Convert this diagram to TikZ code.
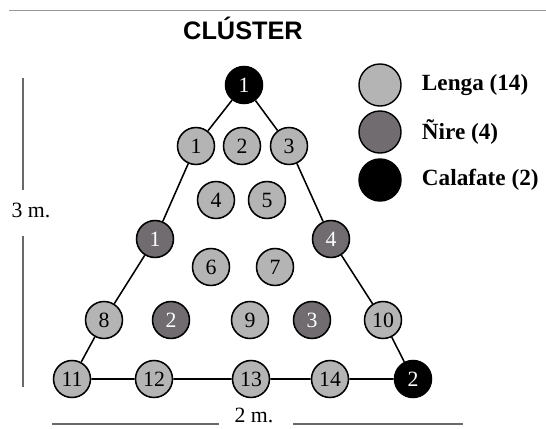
\documentclass[tikz,border=0pt]{standalone}
\usepackage{fontspec}
\setmainfont{Liberation Serif}
\newfontfamily\titlefont{Liberation Sans}
\definecolor{lengagray}{RGB}{180,180,180}
\definecolor{niregray}{RGB}{112,108,112}
\definecolor{rulegray}{RGB}{150,150,150}
\tikzset{
  tree/.style={circle,draw=black,line width=1.1pt,minimum size=26.3pt,inner sep=0pt,
    font=\fontsize{15.5}{15.5}\selectfont},
  lenga/.style={tree,fill=lengagray,text=black},
  nire/.style={tree,fill=niregray,text=white},
  calafate/.style={tree,fill=black,text=white},
  legendmark/.style={circle,draw=black,line width=1pt,minimum size=29.9pt,inner sep=0pt},
  legendtext/.style={anchor=west,font=\fontsize{16.5}{16.5}\selectfont\bfseries},
  dimtext/.style={font=\fontsize{15.5}{15.5}\selectfont},
  dimline/.style={draw=rulegray!70!black,line width=0.8pt}
}
\begin{document}
\begin{tikzpicture}[x=0.025cm,y=-0.025cm]
  \useasboundingbox (0,0) rectangle (546,428);
  \draw[rulegray,line width=0.8pt] (9,10.5) -- (546,10.5);
  \node[font=\titlefont\fontsize{18}{18}\selectfont\bfseries] (title) at (243,28) {CLÚSTER};
  % trees
  \node[calafate] (c1) at (244,85) {1};
  \node[lenga] (l1) at (196,146) {1};
  \node[lenga] (l2) at (242,146) {2};
  \node[lenga] (l3) at (289,146) {3};
  \node[lenga] (l4) at (216,200) {4};
  \node[lenga] (l5) at (267,200) {5};
  \node[nire] (n1) at (155,239) {1};
  \node[nire] (n4) at (331,239) {4};
  \node[lenga] (l6) at (211,267) {6};
  \node[lenga] (l7) at (275,267) {7};
  \node[lenga] (l8) at (104,320) {8};
  \node[nire] (n2) at (171,320) {2};
  \node[lenga] (l9) at (250,320) {9};
  \node[nire] (n3) at (312,320) {3};
  \node[lenga] (l10) at (383,320) {10};
  \node[lenga] (l11) at (72,379) {11};
  \node[lenga] (l12) at (154,379) {12};
  \node[lenga] (l13) at (251,379) {13};
  \node[lenga] (l14) at (330,379) {14};
  \node[calafate] (c2) at (413,379) {2};
  % triangle
  \draw[line width=1.1pt] (c1) -- (l1) -- (n1) -- (l8) -- (l11) -- (l12) -- (l13) -- (l14) -- (c2)
    -- (l10) -- (n4) -- (l3) -- (c1);
  % legend
  \node[legendmark,fill=lengagray] (kl) at (380,85) {};
  \node[legendmark,fill=niregray] (kn) at (380,132) {};
  \node[legendmark,fill=black] (kc) at (380,180) {};
  \node[legendtext] (tl) at (417,85) {Lenga (14)};
  \node[legendtext] (tn) at (417,132) {Ñire (4)};
  \node[legendtext] (tc) at (417,180) {Calafate (2)};
  % dimensions
  \node[dimtext] (h) at (31,210) {3 m.};
  \coordinate (htop) at (23,78);
  \coordinate (hgap1) at (23,190);
  \coordinate (hgap2) at (23,236);
  \coordinate (hbot) at (23,387);
  \draw[dimline] (htop) -- (hgap1);
  \draw[dimline] (hgap2) -- (hbot);
  \node[dimtext] (w) at (254,415) {2 m.};
  \coordinate (wleft) at (52,424);
  \coordinate (wgap1) at (219,424);
  \coordinate (wgap2) at (293,424);
  \coordinate (wright) at (463,424);
  \draw[dimline] (wleft) -- (wgap1);
  \draw[dimline] (wgap2) -- (wright);
\end{tikzpicture}
\end{document}
